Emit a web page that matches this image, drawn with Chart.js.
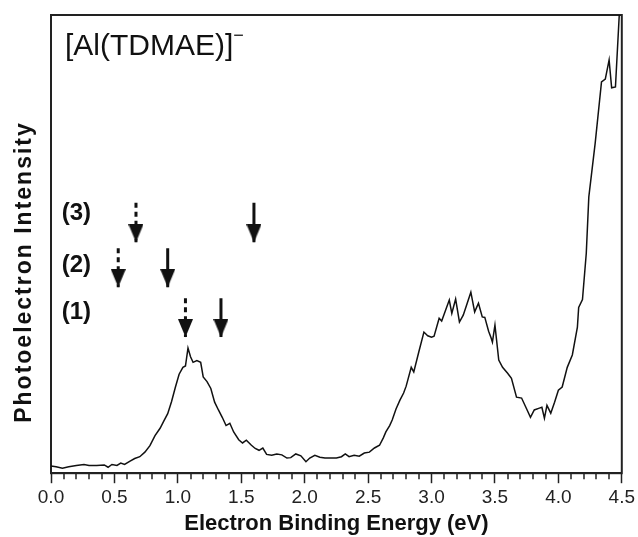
<!DOCTYPE html>
<html>
<head>
<meta charset="utf-8">
<script src="https://cdn.jsdelivr.net/npm/chart.js@4"></script>
<style>
  html, body { margin: 0; padding: 0; background: #fff; }
  #wrap { width: 638px; height: 537px; }
</style>
</head>
<body>
<div id="wrap"><canvas id="pes"></canvas></div>
<script>
// spectrum (eV vs. relative intensity, 0-100)
const bindingEnergy = [
  0.00, 0.04, 0.09, 0.14, 0.20, 0.26, 0.30, 0.36, 0.42, 0.45, 0.48, 0.52, 0.55, 0.58,
  0.62, 0.66, 0.70, 0.74, 0.78, 0.82, 0.86, 0.89, 0.92, 0.95, 0.98, 1.01, 1.04, 1.06,
  1.08, 1.10, 1.12, 1.15, 1.18, 1.20, 1.23, 1.26, 1.29, 1.32, 1.35, 1.38, 1.41, 1.44,
  1.48, 1.51, 1.54, 1.58, 1.61, 1.64, 1.67, 1.70, 1.74, 1.78, 1.82, 1.86, 1.89, 1.93,
  1.97, 2.01, 2.04, 2.08, 2.12, 2.16, 2.20, 2.25, 2.29, 2.32, 2.35, 2.39, 2.43, 2.47,
  2.51, 2.55, 2.59, 2.62, 2.64, 2.67, 2.69, 2.72, 2.75, 2.78, 2.80, 2.84, 2.86, 2.90,
  2.94, 2.97, 3.00, 3.02, 3.06, 3.08, 3.11, 3.14, 3.16, 3.19, 3.22, 3.25, 3.28, 3.31,
  3.34, 3.37, 3.40, 3.42, 3.45, 3.47, 3.48, 3.50, 3.53, 3.56, 3.60, 3.63, 3.67, 3.71,
  3.75, 3.78, 3.81, 3.85, 3.87, 3.89, 3.91, 3.94, 3.97, 4.00, 4.03, 4.07, 4.11, 4.15,
  4.16, 4.19, 4.22, 4.24, 4.29, 4.34, 4.37, 4.40, 4.42, 4.45, 4.48
];
const intensity = [
  1.6, 1.4, 1.1, 1.4, 1.7, 1.9, 1.7, 1.7, 1.8, 1.3, 1.9, 1.7, 2.2, 1.9,
  2.6, 3.2, 3.6, 4.6, 6.0, 8.2, 9.8, 11.4, 13.0, 15.6, 18.7, 21.6, 23.1, 23.4,
  27.3, 25.4, 24.2, 24.6, 24.2, 21.0, 20.0, 18.5, 15.5, 13.8, 12.2, 10.4, 10.9, 9.0,
  7.3, 6.6, 7.2, 6.1, 5.4, 5.0, 5.5, 4.1, 3.9, 4.2, 4.0, 3.3, 3.4, 4.2,
  3.8, 2.5, 3.3, 3.9, 3.5, 3.3, 3.3, 3.3, 3.6, 4.2, 3.6, 3.9, 3.7, 4.4,
  4.6, 5.5, 6.1, 7.7, 9.0, 10.4, 11.6, 14.0, 15.9, 17.5, 19.0, 23.1, 22.1, 26.5,
  30.8, 30.0, 29.7, 29.9, 33.8, 33.2, 35.5, 37.8, 34.9, 38.0, 33.0, 34.5, 37.0, 39.5,
  35.2, 37.1, 34.1, 34.0, 31.0, 29.5, 28.6, 32.3, 24.7, 23.1, 21.8, 20.7, 16.6, 16.4,
  14.0, 12.2, 13.8, 14.2, 14.4, 12.0, 14.8, 13.1, 15.5, 18.1, 18.8, 23.1, 25.8, 31.9,
  36.2, 37.9, 48.0, 60.3, 72.0, 85.4, 86.0, 90.2, 84.1, 84.3, 100
];

// marked transitions, rows (1), (2), (3)
const rowLabels = ['(1)', '(2)', '(3)'];
const dashedArrowEnergy = [1.06, 0.53, 0.67];
const solidArrowEnergy = [1.34, 0.92, 1.60];
const arrowTop = [38.2, 49.1, 59.0];
const arrowTip = [29.7, 40.6, 50.4];
const rowLabelEnergy = 0.2;
const rowLabelLevel = [35.2, 45.4, 56.6];

const xTicks = ['0.0', '0.5', '1.0', '1.5', '2.0', '2.5', '3.0', '3.5', '4.0', '4.5'];

const FONT = '"Liberation Sans", Arial, sans-serif';
const INK = '#111';
Chart.defaults.font.family = FONT;

// downward arrow head, tip at the centre of the image
const arrowHead = document.createElement('canvas');
arrowHead.width = 15;
arrowHead.height = 36;
(function () {
  const c = arrowHead.getContext('2d');
  c.fillStyle = INK;
  c.beginPath();
  c.moveTo(0, 0);
  c.lineTo(15, 0);
  c.lineTo(7.5, 18);
  c.closePath();
  c.fill();
})();

function arrowDataset(energy, top, tip, dashed) {
  return {
    data: [{ x: energy, y: top }, { x: energy, y: tip }],
    borderColor: INK,
    borderWidth: 3,
    borderDash: dashed ? [5, 4] : [],
    borderCapStyle: 'butt',
    pointStyle: ctx => ctx.dataIndex === 1 ? arrowHead : 'circle',
    pointRadius: ctx => ctx.dataIndex === 1 ? 5 : 0,
    pointHoverRadius: 0,
    clip: false
  };
}

const datasets = [{
  data: bindingEnergy.map((e, i) => ({ x: e, y: intensity[i] })),
  borderColor: INK,
  borderWidth: 1.5,
  pointRadius: 0,
  tension: 0
}];
rowLabels.forEach((label, i) => {
  datasets.push(arrowDataset(dashedArrowEnergy[i], arrowTop[i], arrowTip[i], true));
  datasets.push(arrowDataset(solidArrowEnergy[i], arrowTop[i], arrowTip[i], false));
});

const annotate = {
  id: 'annotate',
  beforeDatasetsDraw(chart) {
    const { ctx, chartArea: a } = chart;
    ctx.save();
    ctx.strokeStyle = '#222';
    ctx.lineWidth = 2;
    ctx.strokeRect(a.left, a.top, a.right - a.left, a.bottom - a.top);
    ctx.restore();
  },
  afterDraw(chart) {
    const { ctx, chartArea: a, scales: { x, y } } = chart;
    ctx.save();

    // minor ticks every 0.1 eV
    ctx.strokeStyle = '#222';
    ctx.lineWidth = 1.5;
    for (let i = 1; i < 45; i++) {
      if (i % 5 === 0) continue;
      const px = Math.round(x.getPixelForValue(i / 10));
      ctx.beginPath();
      ctx.moveTo(px, a.bottom);
      ctx.lineTo(px, a.bottom + 6);
      ctx.stroke();
    }

    ctx.fillStyle = INK;

    // row labels
    ctx.font = 'bold 24px ' + FONT;
    ctx.textAlign = 'center';
    ctx.textBaseline = 'middle';
    rowLabels.forEach((label, i) => {
      ctx.fillText(label, x.getPixelForValue(rowLabelEnergy), y.getPixelForValue(rowLabelLevel[i]));
    });

    // species label
    ctx.font = '30px ' + FONT;
    ctx.textAlign = 'left';
    ctx.textBaseline = 'alphabetic';
    const sx = a.left + 14;
    const sy = a.top + 40;
    ctx.fillText('[Al(TDMAE)]', sx, sy);
    const w = ctx.measureText('[Al(TDMAE)]').width;
    ctx.font = '18px ' + FONT;
    ctx.fillText('\u2212', sx + w, sy - 14);

    // y axis title
    ctx.translate(25, 272);
    ctx.rotate(-Math.PI / 2);
    ctx.font = 'bold 23px ' + FONT;
    ctx.letterSpacing = '2px';
    ctx.textAlign = 'center';
    ctx.textBaseline = 'middle';
    ctx.fillText('Photoelectron Intensity', 0, 0);
    ctx.letterSpacing = '0px';

    ctx.restore();
  }
};

new Chart(document.getElementById('pes'), {
  type: 'line',
  data: { datasets: datasets },
  options: {
    responsive: true,
    maintainAspectRatio: false,
    animation: false,
    layout: { padding: { left: 51, right: 15, top: 15, bottom: 0 } },
    plugins: {
      legend: { display: false },
      tooltip: { enabled: false }
    },
    scales: {
      x: {
        type: 'linear',
        min: 0,
        max: 4.5,
        ticks: {
          stepSize: 0.5,
          autoSkip: false,
          maxRotation: 0,
          padding: 3,
          color: '#222',
          font: { size: 19 },
          callback: (v, i) => xTicks[i]
        },
        grid: {
          drawOnChartArea: false,
          tickLength: 10,
          tickColor: '#222',
          tickWidth: 1.5
        },
        border: { color: '#222', width: 2 },
        title: {
          display: true,
          text: 'Electron Binding Energy (eV)',
          color: INK,
          font: { size: 22, weight: 'bold', lineHeight: 1 },
          padding: { top: 1, bottom: 2 }
        }
      },
      y: {
        display: false,
        min: 0,
        max: 100
      }
    }
  },
  plugins: [annotate]
});
</script>
</body>
</html>
